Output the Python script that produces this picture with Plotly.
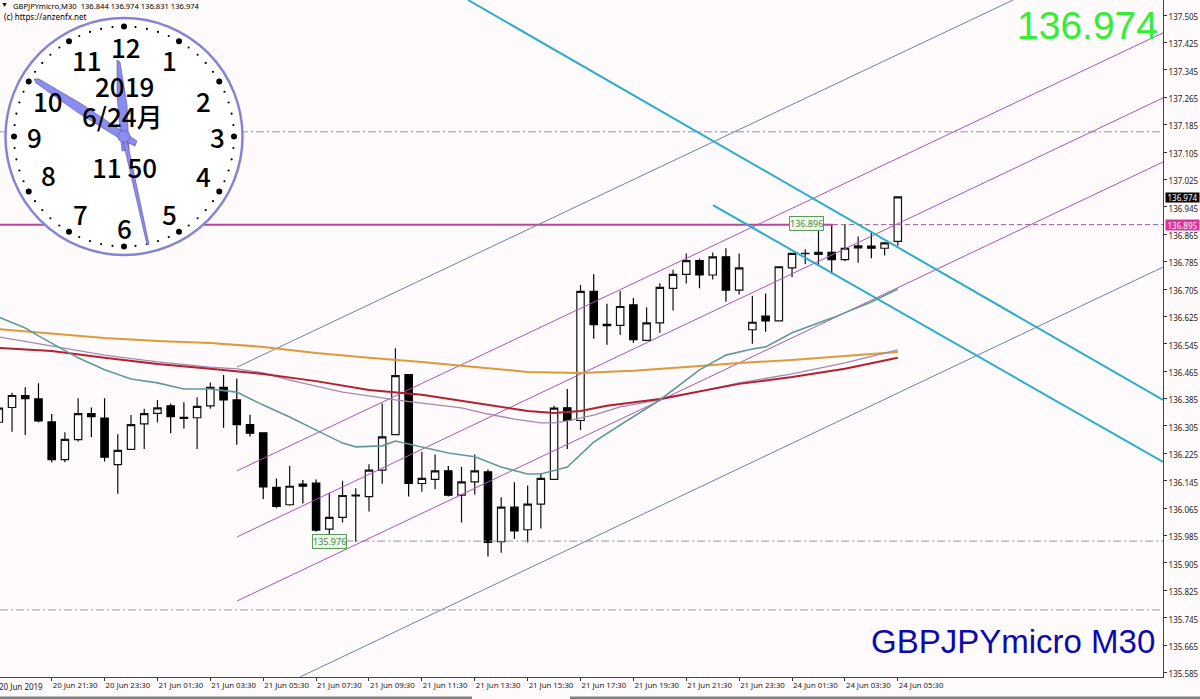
import math
import plotly.graph_objects as go

# candles, oldest first
opens = [136.316, 136.359, 136.394, 136.384, 136.317, 136.207, 136.265, 136.341, 136.328, 136.192,
         136.237, 136.311, 136.342, 136.364, 136.330, 136.329, 136.364, 136.418, 136.381, 136.309,
         136.285, 136.126, 136.075, 136.135, 136.138, 136.004, 136.038, 136.101, 136.099, 136.176,
         136.280, 136.455, 136.137, 136.149, 136.174, 136.103, 136.142, 136.171, 135.967, 136.068,
         136.002, 136.077, 136.149, 136.358, 136.321, 136.698, 136.602, 136.599, 136.659, 136.555,
         136.606, 136.707, 136.748, 136.788, 136.746, 136.799, 136.702, 136.586, 136.626, 136.612,
         136.767, 136.808, 136.806, 136.812, 136.791, 136.825, 136.830, 136.824, 136.844]
highs = [136.371, 136.402, 136.418, 136.430, 136.340, 136.287, 136.386, 136.359, 136.386, 136.281,
         136.337, 136.355, 136.381, 136.371, 136.374, 136.389, 136.432, 136.454, 136.444, 136.338,
         136.287, 136.152, 136.188, 136.147, 136.149, 136.110, 136.145, 136.123, 136.193, 136.371,
         136.532, 136.455, 136.230, 136.222, 136.188, 136.186, 136.222, 136.178, 136.097, 136.141,
         136.131, 136.167, 136.364, 136.413, 136.717, 136.748, 136.662, 136.699, 136.679, 136.652,
         136.722, 136.761, 136.809, 136.794, 136.812, 136.824, 136.809, 136.685, 136.692, 136.770,
         136.809, 136.821, 136.892, 136.894, 136.894, 136.858, 136.874, 136.842, 136.974]
lows = [136.303, 136.288, 136.279, 136.316, 136.199, 136.199, 136.260, 136.273, 136.201, 136.107,
        136.237, 136.238, 136.315, 136.284, 136.298, 136.238, 136.355, 136.300, 136.250, 136.274,
        136.092, 136.065, 136.072, 136.079, 135.997, 135.977, 136.023, 135.967, 136.055, 136.136,
        136.280, 136.099, 136.113, 136.120, 136.099, 136.023, 136.104, 135.924, 135.935, 135.975,
        135.965, 136.006, 136.149, 136.238, 136.293, 136.560, 136.542, 136.571, 136.548, 136.555,
        136.577, 136.642, 136.721, 136.707, 136.733, 136.668, 136.689, 136.545, 136.580, 136.612,
        136.739, 136.777, 136.773, 136.749, 136.786, 136.782, 136.795, 136.803, 136.831]
closes = [136.357, 136.394, 136.385, 136.320, 136.207, 136.266, 136.341, 136.332, 136.214, 136.234,
          136.309, 136.341, 136.358, 136.332, 136.327, 136.362, 136.418, 136.381, 136.309, 136.284,
          136.127, 136.070, 136.129, 136.129, 136.001, 136.038, 136.102, 136.103, 136.176, 136.273,
          136.452, 136.137, 136.152, 136.174, 136.103, 136.142, 136.174, 135.965, 136.068, 135.999,
          136.077, 136.152, 136.357, 136.321, 136.698, 136.601, 136.598, 136.654, 136.557, 136.606,
          136.710, 136.748, 136.788, 136.746, 136.799, 136.702, 136.767, 136.608, 136.612, 136.770,
          136.809, 136.809, 136.812, 136.791, 136.824, 136.831, 136.824, 136.840, 136.974]

# moving averages, bar number and price
red_i = [0, 4, 8, 12, 16, 20, 24, 28, 32, 36, 40, 42, 44, 46, 50, 56, 60, 64, 68]
red_v = [136.533, 136.524, 136.504, 136.486, 136.472, 136.457, 136.436, 136.410, 136.396, 136.372,
         136.349, 136.343, 136.349, 136.364, 136.384, 136.428, 136.448, 136.472, 136.504]
orange_i = [0, 4, 8, 12, 16, 20, 24, 28, 32, 36, 40, 44, 48, 52, 56, 60, 64, 68]
orange_v = [136.588, 136.574, 136.562, 136.553, 136.547, 136.536, 136.518, 136.504, 136.492, 136.477,
            136.463, 136.460, 136.466, 136.477, 136.489, 136.498, 136.509, 136.521]
teal_i = [0, 2, 3, 6, 8, 10, 12, 14, 16, 18, 20, 22, 24, 26, 27, 29, 30, 32, 34, 36, 38, 40, 41, 43,
          45, 47, 50, 53, 55, 57, 58, 60, 63, 66, 68]
teal_v = [136.623, 136.591, 136.568, 136.504, 136.469, 136.442, 136.431, 136.413, 136.413, 136.404,
          136.366, 136.331, 136.293, 136.255, 136.244, 136.247, 136.261, 136.244, 136.226, 136.215,
          136.185, 136.165, 136.165, 136.185, 136.258, 136.308, 136.381, 136.469, 136.512, 136.530,
          136.536, 136.577, 136.620, 136.667, 136.705]
purple_i = [0, 4, 8, 12, 16, 18, 20, 22, 24, 26, 28, 30, 32, 35, 37, 39, 41, 42, 43, 45, 47, 50, 56,
            60, 64, 68]
purple_v = [136.565, 136.539, 136.512, 136.492, 136.477, 136.472, 136.460, 136.439, 136.422, 136.404,
            136.393, 136.381, 136.372, 136.358, 136.340, 136.325, 136.314, 136.314, 136.320, 136.337,
            136.361, 136.381, 136.431, 136.457, 136.489, 136.527]

# channel lines: start bar, end bar, start price, end price
channel_x0 = [18.02, 18.02, 18.02]
channel_x1 = [88.06, 88.06, 88.06]
channel_y0 = [136.174, 135.981, 135.794]
channel_y1 = [137.453, 137.263, 137.076]
outer_x0 = [18.02, 22.78]
outer_x1 = [76.72, 88.06]
outer_y0 = [136.477, 135.572]
outer_y1 = [137.549, 136.769]
cyan_x0 = [35.49, 54.02]
cyan_x1 = [88.06, 88.06]
cyan_y0 = [137.549, 136.950]
cyan_y1 = [136.381, 136.200]

# horizontal levels
level_x0 = [0.09, 25.0, 0.09]
level_v = [137.164, 135.969, 135.768]
magenta_level = 136.893
magenta_end = 63.1

y_ticks = [137.505, 137.425, 137.345, 137.265, 137.185, 137.105, 137.025, 136.945, 136.865, 136.785,
           136.705, 136.625, 136.545, 136.465, 136.385, 136.305, 136.225, 136.145, 136.065, 135.985,
           135.905, 135.825, 135.745, 135.665, 135.585]
x_ticks = [4, 8, 12, 16, 20, 24, 28, 32, 36, 40, 44, 48, 52, 56, 60, 64, 68]
x_labels = ['20 Jun 21:30', '20 Jun 23:30', '21 Jun 01:30', '21 Jun 03:30', '21 Jun 05:30',
            '21 Jun 07:30', '21 Jun 09:30', '21 Jun 11:30', '21 Jun 13:30', '21 Jun 15:30', '21 Jun 17:30',
            '21 Jun 19:30', '21 Jun 21:30', '21 Jun 23:30', '24 Jun 01:30', '24 Jun 03:30', '24 Jun 05:30']

W = 1163.0
H = 677.0
axis_font = 'Noto Sans'


def px(x):
    return x / W


def py(y):
    return 1 - y / H


fig = go.Figure()

# lines under the candles
for y, x0 in zip(level_v, level_x0):
    fig.add_trace(go.Scatter(x=[x0, 88.06], y=[y, y], mode='lines',
                             line=dict(color='#8a9aa5', width=1, dash='8px,3px,2px,3px')))
fig.add_trace(go.Scatter(x=[0.09, magenta_end], y=[magenta_level, magenta_level], mode='lines',
                         line=dict(color='#b8489c', width=2)))
fig.add_trace(go.Scatter(x=[magenta_end, 88.06], y=[magenta_level, magenta_level], mode='lines',
                         line=dict(color='#9c5a9c', width=1, dash='5px,3px')))

for a, b, c, d in zip(outer_x0, outer_x1, outer_y0, outer_y1):
    fig.add_trace(go.Scatter(x=[a, b], y=[c, d], mode='lines', line=dict(color='#6f80a8', width=1)))
for a, b, c, d in zip(channel_x0, channel_x1, channel_y0, channel_y1):
    fig.add_trace(go.Scatter(x=[a, b], y=[c, d], mode='lines', line=dict(color='#a855b8', width=1)))
for a, b, c, d in zip(cyan_x0, cyan_x1, cyan_y0, cyan_y1):
    fig.add_trace(go.Scatter(x=[a, b], y=[c, d], mode='lines', line=dict(color='#2aaecb', width=2)))

fig.add_trace(go.Scatter(x=orange_i, y=orange_v, mode='lines', line=dict(color='#dd9a38', width=2)))
fig.add_trace(go.Scatter(x=purple_i, y=purple_v, mode='lines', line=dict(color='#a488b4', width=1.3)))
fig.add_trace(go.Scatter(x=red_i, y=red_v, mode='lines', line=dict(color='#b3202e', width=2)))
fig.add_trace(go.Scatter(x=teal_i, y=teal_v, mode='lines', line=dict(color='#5f9a98', width=1.6)))

fig.add_trace(go.Candlestick(
    x=list(range(len(opens))), open=opens, high=highs, low=lows, close=closes,
    increasing=dict(line=dict(color='#111111', width=1.2), fillcolor='#ffffff'),
    decreasing=dict(line=dict(color='#000000', width=1.2), fillcolor='#000000'),
    whiskerwidth=0,
))

# clock
cx, cy, r = 124.0, 136.5, 118.5
shapes = [dict(type='circle', xref='paper', yref='paper', layer='above',
               x0=px(cx - r), x1=px(cx + r), y0=py(cy - r), y1=py(cy + r),
               fillcolor='white', line=dict(color='#8484d4', width=2.5))]
for k in range(60):
    a = math.radians(k * 6)
    dx, dy = cx + 110 * math.sin(a), cy - 110 * math.cos(a)
    s = 3 if k % 5 == 0 else 1.1
    shapes.append(dict(type='circle', xref='paper', yref='paper', layer='above',
                       x0=px(dx - s), x1=px(dx + s), y0=py(dy - s), y1=py(dy + s),
                       fillcolor='black', line=dict(width=0)))


def hand(points):
    path = 'M ' + ' L '.join('%.5f %.5f' % (px(a), py(b)) for a, b in points) + ' Z'
    return dict(type='path', path=path, xref='paper', yref='paper', layer='above',
                fillcolor='#8a8cf0', line=dict(color='#55558f', width=0.6))


shapes.append(hand([(117, 60), (120, 62), (127, 105), (129, 150), (122, 151), (117, 95)]))
shapes.append(hand([(34, 79), (39, 79), (80, 103), (137, 141), (135, 146), (122, 140), (77, 112), (36, 83)]))
shapes.append(hand([(147, 245), (149, 244), (127, 140), (123, 141)]))
shapes.append(dict(type='circle', xref='paper', yref='paper', layer='above',
                   x0=px(cx - 6), x1=px(cx + 6), y0=py(cy - 6), y1=py(cy + 6),
                   fillcolor='#8a8cf0', line=dict(color='#6a6ac8', width=1)))

# strip along the bottom of the window
shapes.append(dict(type='rect', xref='paper', yref='paper', layer='above',
                   x0=px(0), x1=px(472), y0=py(696.5), y1=py(699),
                   fillcolor='#808080', line=dict(width=0)))
shapes.append(dict(type='rect', xref='paper', yref='paper', layer='above',
                   x0=px(570), x1=px(1200), y0=py(696.5), y1=py(699),
                   fillcolor='#808080', line=dict(width=0)))

annotations = []


def label(text, x, y, size, color='black', font='Noto Sans CJK JP', weight=None, **kw):
    kw.setdefault('xanchor', 'center')
    kw.setdefault('yanchor', 'middle')
    annotations.append(dict(text=text, x=px(x), y=py(y), xref='paper', yref='paper', showarrow=False,
                            font=dict(size=size, color=color, family=font, weight=weight), **kw))


clock_digits = ['12', '1', '2', '3', '4', '5', '6', '7', '8', '9', '10', '11']
clock_x = [126, 169, 203, 217, 203, 169, 124, 80, 48, 34, 48, 87]
clock_y = [47, 60, 100, 137, 175, 213, 227, 213, 174, 137, 100, 60]
for t, a, b in zip(clock_digits, clock_x, clock_y):
    label(t, a, b, 26, weight=500)
label('2019', 124, 85, 26, weight=500)
label('6/24月', 122, 115, 26, weight=500)
label('11 50', 124, 166, 26, weight=500)

label('▼', 4, 5, 7, font=axis_font)
label('GBPJPYmicro,M30  136.844 136.974 136.831 136.974', 11, 5.5, 7.6, xanchor='left', font=axis_font)
label('(c) https://anzenfx.net', 2, 16.5, 8, xanchor='left', font=axis_font)
label('136.974', 1160, 25, 39, color='#33ee33', font='Liberation Sans', xanchor='right')
label('GBPJPYmicro M30', 1157, 641, 33, color='#0a0ab0', font='Liberation Sans', xanchor='right')

# first date label starts left of the window edge
label('20 Jun 2019', -3, 686, 8, color='#222222', font=axis_font, xanchor='left')

# price boxes on the axis
label('136.974', 1165, 197.5, 8, color='white', font=axis_font, xanchor='left', bgcolor='black',
      borderpad=0, height=9, width=33)
label('136.895', 1165, 225, 8, color='white', font=axis_font, xanchor='left', bgcolor='#e0309e',
      borderpad=0, height=10, width=33)

# high and low tags
annotations.append(dict(text='136.896', x=61.1, y=136.895, xref='x', yref='y', showarrow=False,
                        font=dict(size=9, color='#4a8a4a', family=axis_font), bgcolor='#eef7ea',
                        bordercolor='#5a9a5a', borderwidth=1, borderpad=0))
annotations.append(dict(text='135.976', x=25.05, y=135.969, xref='x', yref='y', showarrow=False,
                        font=dict(size=9, color='#4a8a4a', family=axis_font), bgcolor='#eef7ea',
                        bordercolor='#5a9a5a', borderwidth=1, borderpad=0))

fig.update_layout(
    width=1200, height=699,
    margin=dict(l=0, r=37, t=0, b=22),
    paper_bgcolor='#fffafb', plot_bgcolor='#fffafb',
    showlegend=False,
    boxgap=0.2,
    shapes=shapes,
    annotations=annotations,
    xaxis=dict(range=[0.09, 88.06], rangeslider=dict(visible=False), showgrid=False, zeroline=False,
               tickmode='array', tickvals=x_ticks, ticktext=x_labels, ticks='outside', ticklen=3,
               tickcolor='#333333', ticklabelposition='outside right', tickangle=0, ticklabelstandoff=1,
               tickfont=dict(size=7.8, color='#222222', family=axis_font),
               showline=True, linecolor='#444444', linewidth=1),
    yaxis=dict(range=[135.572, 137.549], side='right', showgrid=False, zeroline=False,
               tickmode='array', tickvals=y_ticks, ticktext=['%.3f' % v for v in y_ticks],
               ticks='outside', ticklen=3, tickcolor='#333333', ticklabelshift=2,
               tickfont=dict(size=8, color='#222222', family=axis_font),
               showline=True, linecolor='#444444', linewidth=1),
)

fig.write_html("out.html", config=dict(displayModeBar=False), post_script="document.body.style.margin='0'")
